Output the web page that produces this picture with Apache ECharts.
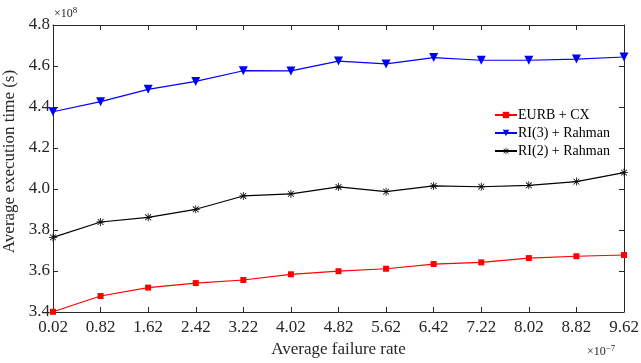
<!DOCTYPE html>
<html><head><meta charset="utf-8">
<script src="https://cdn.jsdelivr.net/npm/echarts@6/dist/echarts.min.js"></script>
<style>html,body{margin:0;padding:0;background:#fff}#c{width:641px;height:363px}</style>
</head><body><div id="c"></div>
<script>
const categories = ['0.02','0.82','1.62','2.42','3.22','4.02','4.82','5.62','6.42','7.22','8.02','8.82','9.62'];
const eurbCx = [3.401,3.478,3.519,3.541,3.556,3.584,3.599,3.611,3.634,3.642,3.663,3.672,3.678];
const ri3Rahman = [4.377,4.426,4.486,4.525,4.577,4.576,4.624,4.610,4.641,4.628,4.628,4.634,4.644];
const ri2Rahman = [3.764,3.839,3.862,3.901,3.966,3.976,4.010,3.987,4.015,4.011,4.018,4.036,4.080];
const seriesNames = ['EURB + CX','RI(3) + Rahman','RI(2) + Rahman'];
const yMin = 3.4, yMax = 4.8, yStep = 0.2;

const FONT = '"Liberation Serif", "Times New Roman", serif';
const AX = '#262626';
const asterisk = 'path://M4.5,0L5.5,0L5.5,10L4.5,10Z M0,4.5L10,4.5L10,5.5L0,5.5Z M1,1.7L1.7,1L9,8.3L8.3,9Z M9,1.7L8.3,1L1,8.3L1.7,9Z';

const chart = echarts.init(document.getElementById('c'), null, {renderer:'canvas'});
const baseX = {
  type:'category', data:categories, boundaryGap:false,
  axisLine:{show:true, lineStyle:{color:AX, width:1}},
  axisTick:{show:true, inside:true, length:5, lineStyle:{color:AX}},
  splitLine:{show:false}
};
const baseY = {
  type:'value', min:yMin, max:yMax, interval:yStep, scale:true,
  axisLine:{show:true, lineStyle:{color:AX, width:1}},
  axisTick:{show:true, inside:true, length:5, lineStyle:{color:AX}},
  splitLine:{show:false}
};
chart.setOption({
  animation:false,
  grid:{left:53, right:17, top:25, bottom:51, containLabel:false, outerBoundsMode:'none'},
  xAxis:[
    Object.assign({}, baseX, {position:'bottom',
      name:'Average failure rate', nameLocation:'middle', nameGap:27,
      nameTextStyle:{fontFamily:FONT, fontSize:17, color:'#262626'},
      axisLabel:{fontFamily:FONT, fontSize:17, color:'#262626', margin:7}}),
    Object.assign({}, baseX, {position:'top', axisLabel:{show:false}})
  ],
  yAxis:[
    Object.assign({}, baseY, {position:'left',
      name:'Average execution time (s)', nameLocation:'middle', nameGap:28,
      nameTextStyle:{fontFamily:FONT, fontSize:17, color:'#262626', padding:[0,0,0,14]},
      axisLabel:{fontFamily:FONT, fontSize:17, color:'#262626', margin:3,
        formatter:v=>v.toFixed(1)}}),
    Object.assign({}, baseY, {position:'right', axisLabel:{show:false}})
  ],
  legend:{
    orient:'vertical', left:494, top:108, padding:0, itemWidth:22, itemHeight:8, itemGap:4,
    textStyle:{fontFamily:FONT, fontSize:14, color:'#000', padding:[0,0,0,-4]},
    data:seriesNames
  },
  series:[
    {name:seriesNames[0], type:'line', data:eurbCx, symbol:'rect', symbolSize:6,
     itemStyle:{color:'#ff0000'}, lineStyle:{color:'#ff0000', width:1.2}},
    {name:seriesNames[1], type:'line', data:ri3Rahman, symbol:'triangle', symbolRotate:180, symbolSize:9,
     itemStyle:{color:'#0000ff'}, lineStyle:{color:'#0000ff', width:1.2}},
    {name:seriesNames[2], type:'line', data:ri2Rahman, symbol:asterisk, symbolSize:8,
     itemStyle:{color:'#000000'}, lineStyle:{color:'#000000', width:1.2}}
  ],
  graphic:[
    {type:'text', left:54, top:6, style:{text:'×10{s|8}', fontFamily:FONT, fontSize:12, fill:'#262626',
      rich:{s:{fontSize:9, verticalAlign:'top', padding:[0,0,6,0], fontFamily:FONT, fill:'#262626'}}}},
    {type:'text', left:587, top:344, style:{text:'×10{s|−7}', fontFamily:FONT, fontSize:12, fill:'#262626',
      rich:{s:{fontSize:9, padding:[0,0,6,0], fontFamily:FONT, fill:'#262626'}}}}
  ]
});
</script></body></html>
